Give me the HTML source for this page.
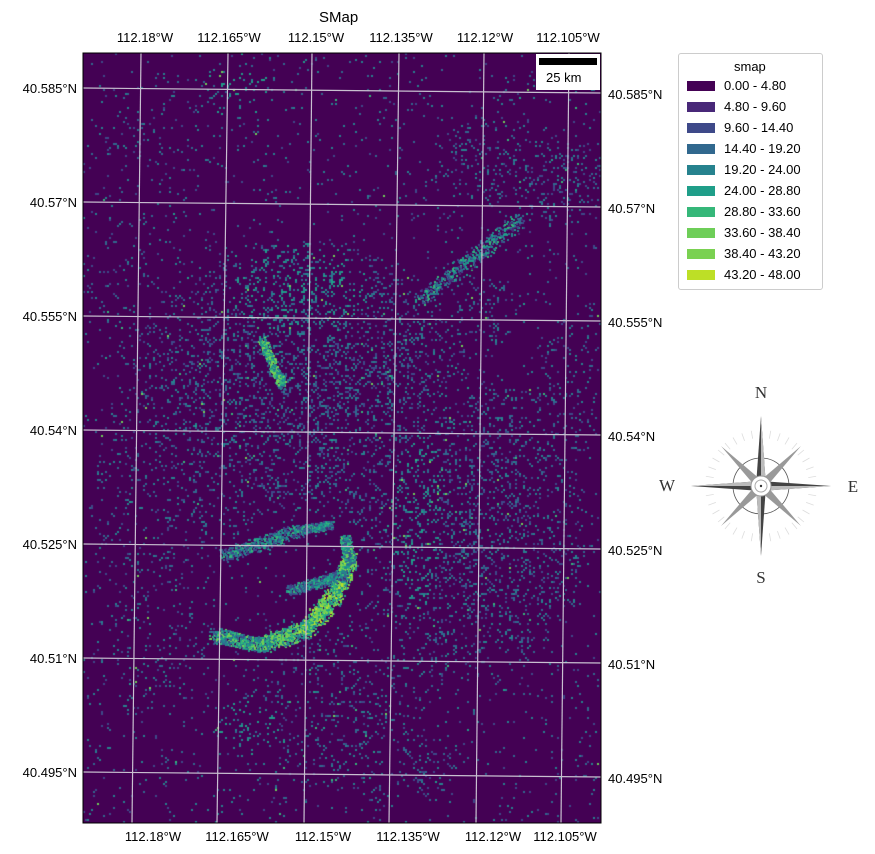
<!DOCTYPE html>
<html><head><meta charset="utf-8">
<style>
body{margin:0;background:#fff;width:875px;height:854px;position:relative;overflow:hidden;font-family:"Liberation Sans",sans-serif;color:#000}
.t{position:absolute;font-size:13px;white-space:nowrap}
.lg{position:absolute;left:678px;top:53px;width:143px;height:235px;border:1px solid #ccc;border-radius:3px;background:#fff}
.lg .row{position:absolute;left:8px;font-size:13px}
.lg .sw{display:inline-block;width:28px;height:10px;vertical-align:-1px;margin-right:9px}
</style></head><body>
<div class="t" style="left:319px;top:9px;font-size:15px">SMap</div>
<canvas id="map" width="518" height="770" style="position:absolute;left:83px;top:53px"></canvas>
<svg id="ov" width="875" height="854" style="position:absolute;left:0;top:0"></svg>
<div style="position:absolute;left:536px;top:54px;width:64px;height:36px;background:#fff">
 <div style="position:absolute;left:3px;top:4px;width:58px;height:7px;background:#000"></div>
 <div class="t" style="left:10px;top:16px">25 km</div>
</div>
<div class="lg">
 <div class="row" style="left:55px;top:5px">smap</div>
 <div id="lgrows"></div>
</div>
<svg width="210" height="210" style="position:absolute;left:650px;top:380px">
 <g font-family="Liberation Serif,serif" font-size="17" fill="#333" text-anchor="middle">
  <text x="111" y="18">N</text><text x="111" y="203">S</text><text x="17" y="111">W</text><text x="203" y="112">E</text>
 </g>
 <g transform="translate(111,106)">
  <circle r="28" fill="none" stroke="#555" stroke-width="0.8"/>
  <g id="ticks" stroke="#ddd" stroke-width="0.8"></g>
  <g fill="#999"><polygon points="0,-6 40,-40 6,0"/><polygon points="0,6 40,40 6,0"/><polygon points="0,-6 -40,-40 -6,0"/><polygon points="0,6 -40,40 -6,0"/></g>
  <g fill="#444"><polygon points="0,-70 5,0 -5,0"/><polygon points="0,70 5,0 -5,0"/><polygon points="-70,0 0,5 0,-5"/><polygon points="70,0 0,5 0,-5"/></g>
  <g fill="#bbb"><polygon points="0,-70 5,0 0,0"/><polygon points="0,70 -5,0 0,0"/><polygon points="-70,0 0,-5 0,0"/><polygon points="70,0 0,5 0,0"/></g>
  <circle r="10" fill="#fff" stroke="#999"/><circle r="6" fill="none" stroke="#aaa"/><circle r="1.2" fill="#333"/>
 </g>
</svg>
<script>
const legendLabels=["0.00 - 4.80","4.80 - 9.60","9.60 - 14.40","14.40 - 19.20","19.20 - 24.00","24.00 - 28.80","28.80 - 33.60","33.60 - 38.40","38.40 - 43.20","43.20 - 48.00"];
const legendColors=["#440154","#482878","#3e4989","#31688e","#26828e","#1f9e89","#35b779","#6ece58","#7ad151","#bddf26"];
const lonTop=["112.18°W","112.165°W","112.15°W","112.135°W","112.12°W","112.105°W"];
const lonTopX=[145,229,316,401,485,568];
const lonBotX=[153,237,323,408,493,565];
const gridTopX=[141,228,312,399,484,569];
const gridBotX=[132,217,304,389,476,561];
const latLabels=["40.585°N","40.57°N","40.555°N","40.54°N","40.525°N","40.51°N","40.495°N"];
const gridLeftY=[88,202,316,430,544,658,772];
const gridRightY=[93,207,321,435,549,663,777];
// speckle regions: [cx, cy, rx, ry, density, level]
const regions=[[300,380,170,140,0.22,3],[300,310,100,70,0.22,4],[170,130,90,70,0.06,3],[230,90,40,30,0.1,4],
[490,160,60,45,0.14,3],[560,180,45,50,0.18,3],[480,310,40,40,0.12,3],[470,530,120,150,0.18,3],[180,460,90,120,0.1,3],
[150,600,70,130,0.08,3],[330,700,110,90,0.1,3],[400,760,60,50,0.1,3],[120,300,40,100,0.07,3],[560,400,45,80,0.1,3],[250,720,40,30,0.12,4],[420,520,40,120,0.2,4]];
// arc band segments: [x1,y1,x2,y2,width,level]
const arc=[[215,635,260,645,14,5],[260,645,305,630,16,6],[305,630,335,595,16,7],[335,595,350,560,14,7],[350,560,345,540,10,5],[225,555,300,530,12,4],[300,530,330,525,8,4],[262,340,282,385,8,6],[420,300,520,220,14,4],[290,590,345,575,10,4]];
const c=document.getElementById('map'),g=c.getContext('2d');
g.fillStyle=legendColors[0];g.fillRect(0,0,518,770);
function h(i,j,k){let n=(i*374761393+j*668265263+k*982451653)|0;n=(n^(n>>>13))*1274126177|0;return ((n^(n>>>16))>>>0)/4294967296;}
const ox=83,oy=53;
for(let y=0;y<770;y+=2)for(let x=0;x<518;x+=2){let d=0.025,lv=3;
 for(const r of regions){const dx=(x+ox-r[0])/r[2],dy=(y+oy-r[1])/r[3];const q=dx*dx+dy*dy;if(q<1){const v=r[4]*(1-q*0.6);if(v>d){d=v;lv=r[5];}}}
 if(h(x,y,1)<d){const t=h(x,y,2);const L=Math.max(1,Math.min(9,lv+Math.round((t-0.5)*2.4)+(h(x,y,7)>0.97?3:0)));g.fillStyle=legendColors[L];g.fillRect(x,y,2,2);}}
for(const a of arc){for(let s=0;s<=60;s++){const px=a[0]+(a[2]-a[0])*s/60-ox,py=a[1]+(a[3]-a[1])*s/60-oy;
 for(let k=0;k<8;k++){const ax=px+(h(s,k,3)-0.5)*a[4],ay=py+(h(s,k,4)-0.5)*a[4];const L=Math.max(1,Math.min(9,a[5]+Math.round((h(s,k,5)-0.6)*5)));g.fillStyle=legendColors[L];g.fillRect(ax|0,ay|0,2,2);}}}
const ns="http://www.w3.org/2000/svg",ov=document.getElementById('ov');
function el(t,a,p){const e=document.createElementNS(ns,t);for(const k in a)e.setAttribute(k,a[k]);(p||ov).appendChild(e);return e;}
for(let i=0;i<gridTopX.length;i++){const l=el('line',{x1:gridTopX[i],y1:53,x2:gridBotX[i],y2:823,stroke:'#c8c0d0','stroke-width':1.2});
 
 }
for(let i=0;i<gridLeftY.length;i++){const l=el('line',{x1:83,y1:gridLeftY[i],x2:601,y2:gridRightY[i],stroke:'#c8c0d0','stroke-width':1.2});
 
 }
el('rect',{x:83,y:53,width:518,height:770,fill:'none',stroke:'#000','stroke-width':1});
for(let i=0;i<lonTop.length;i++){
 const a=el('text',{x:lonTopX[i],y:42,'font-size':13,'text-anchor':'middle','font-family':'Liberation Sans'});a.textContent=lonTop[i];
 
 
 const b=el('text',{x:lonBotX[i],y:841,'font-size':13,'text-anchor':'middle','font-family':'Liberation Sans'});b.textContent=lonTop[i];
 
 }
for(let i=0;i<latLabels.length;i++){
 const a=el('text',{x:77,y:gridLeftY[i]+5,'font-size':13,'text-anchor':'end','font-family':'Liberation Sans'});a.textContent=latLabels[i];
 
 
 const b=el('text',{x:608,y:gridRightY[i]+6,'font-size':13,'font-family':'Liberation Sans'});b.textContent=latLabels[i];
 
 }
const lr=document.getElementById('lgrows');
legendLabels.forEach((s,i)=>{const d=document.createElement('div');d.className='row';d.style.top=(24+i*21)+'px';
 d.innerHTML='<span class="sw" style="background:'+legendColors[i]+'"></span>'+s;
 
 lr.appendChild(d);});
const tk=document.getElementById('ticks');
for(let a=0;a<360;a+=10){const r=Math.PI*a/180;el('line',{x1:Math.cos(r)*48,y1:Math.sin(r)*48,x2:Math.cos(r)*56,y2:Math.sin(r)*56},tk);}
</script>
</body></html>
